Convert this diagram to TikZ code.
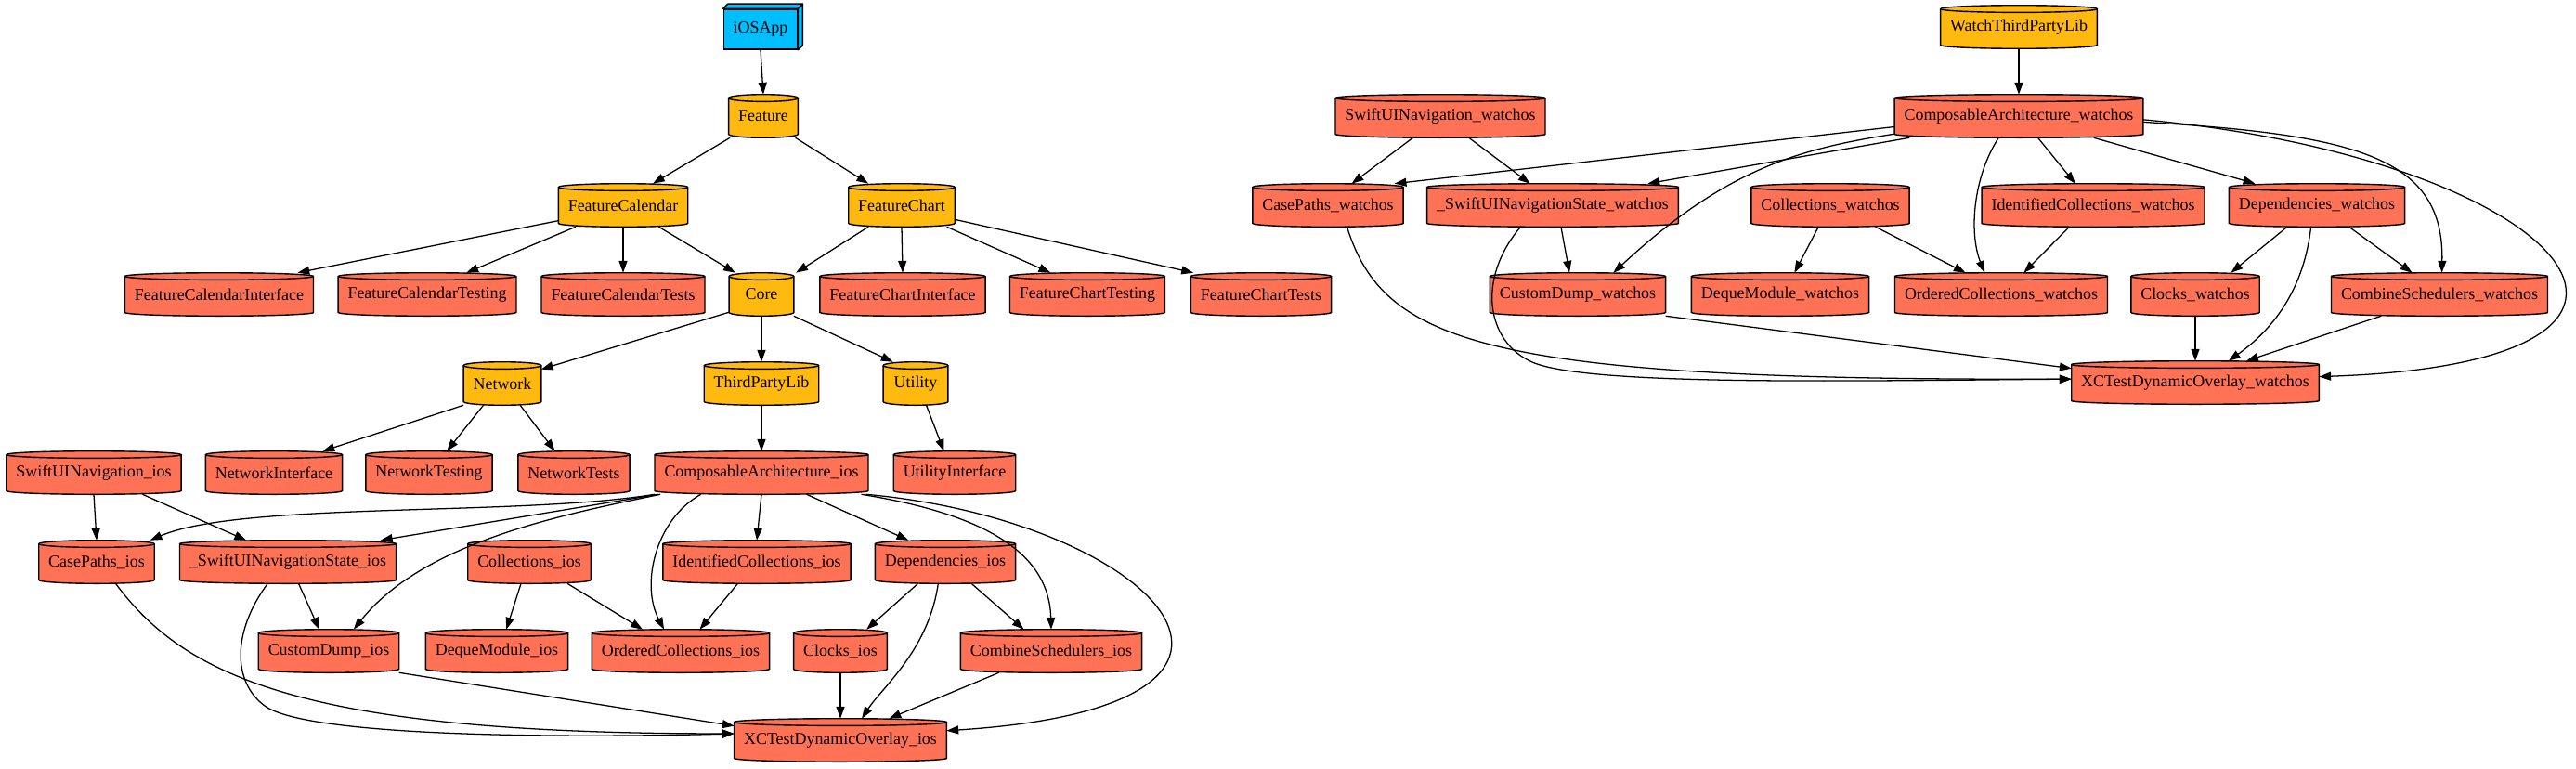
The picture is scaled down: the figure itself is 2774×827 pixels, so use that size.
\documentclass[tikz,border=0pt]{standalone}
\usepackage{fontspec}
\setmainfont{Liberation Serif}
\usetikzlibrary{arrows.meta,calc}
\pgfdeclarelayer{background}
\pgfsetlayers{background,main}
\definecolor{gold}{HTML}{FFB90F}
\definecolor{tom}{HTML}{FF7256}
\definecolor{sky}{HTML}{00BFFF}
\tikzset{
  gn/.style={font=\fontsize{14pt}{16pt}\selectfont, inner xsep=8pt, inner ysep=0pt, minimum height=36pt, minimum width=54pt},
  edg/.style={-{Triangle[length=10pt,width=7pt]}, line width=1pt, black},
  cylline/.style={draw=black, line width=1.1pt},
}
\begin{document}
\begin{tikzpicture}[x=0.78125pt,y=-0.78125pt]
\useasboundingbox (0,0) rectangle (2774,827);
% ---------- iOS nodes ----------
\node[gn, draw, fill=sky, line width=1.1pt, minimum width=59.4pt, minimum height=33.6pt] (ios) at (819,31.5) {iOSApp};
\node[gn] (Feat) at (822,125) {Feature};
\node[gn] (FCal) at (671,221) {FeatureCalendar};
\node[gn] (FChart) at (971,221) {FeatureChart};
\node[gn] (FCI) at (236,317) {FeatureCalendarInterface};
\node[gn] (FCT) at (460,317) {FeatureCalendarTesting};
\node[gn] (FCTs) at (671,317) {FeatureCalendarTests};
\node[gn] (Core) at (820,317) {Core};
\node[gn] (FChI) at (972,317) {FeatureChartInterface};
\node[gn] (FChT) at (1171,317) {FeatureChartTesting};
\node[gn] (FChTs) at (1358,317) {FeatureChartTests};
\node[gn] (Net) at (541,413) {Network};
\node[gn] (TPL) at (820,413) {ThirdPartyLib};
\node[gn] (Util) at (986,413) {Utility};
\node[gn] (SNi) at (101,509) {SwiftUINavigation\_ios};
\node[gn] (NI) at (295,509) {NetworkInterface};
\node[gn] (NTg) at (462,509) {NetworkTesting};
\node[gn] (NTs) at (618,509) {NetworkTests};
\node[gn] (CAi) at (820,509) {ComposableArchitecture\_ios};
\node[gn] (UI) at (1028,509) {UtilityInterface};
\node[gn] (CPi) at (104,605) {CasePaths\_ios};
\node[gn] (SNSi) at (310,605) {\_SwiftUINavigationState\_ios};
\node[gn] (Coli) at (570,605) {Collections\_ios};
\node[gn] (ICi) at (815,605) {IdentifiedCollections\_ios};
\node[gn] (Depi) at (1018,605) {Dependencies\_ios};
\node[gn] (CDi) at (354,701) {CustomDump\_ios};
\node[gn] (DQi) at (535,701) {DequeModule\_ios};
\node[gn] (OCi) at (733,701) {OrderedCollections\_ios};
\node[gn] (Clki) at (905,701) {Clocks\_ios};
\node[gn] (CSi) at (1132,701) {CombineSchedulers\_ios};
\node[gn] (XTi) at (905,797) {XCTestDynamicOverlay\_ios};
% ---------- watchOS nodes ----------
\node[gn] (WTL) at (2174,29) {WatchThirdPartyLib};
\node[gn] (SNw) at (1551,125) {SwiftUINavigation\_watchos};
\node[gn] (CAw) at (2174,125) {ComposableArchitecture\_watchos};
\node[gn] (CPw) at (1430,221) {CasePaths\_watchos};
\node[gn] (SNSw) at (1672,221) {\_SwiftUINavigationState\_watchos};
\node[gn] (Colw) at (1971,221) {Collections\_watchos};
\node[gn] (ICw) at (2254,221) {IdentifiedCollections\_watchos};
\node[gn] (Depw) at (2495,221) {Dependencies\_watchos};
\node[gn] (CDw) at (1699,317) {CustomDump\_watchos};
\node[gn] (DQw) at (1917,317) {DequeModule\_watchos};
\node[gn] (OCw) at (2155,317) {OrderedCollections\_watchos};
\node[gn] (Clkw) at (2364,317) {Clocks\_watchos};
\node[gn] (CSw) at (2627,317) {CombineSchedulers\_watchos};
\node[gn] (XTw) at (2364,412) {XCTestDynamicOverlay\_watchos};
% ---------- box3d faces ----------
\filldraw[fill=sky, line width=1.1pt, line join=round] (ios.north west) -- ++(4pt,4pt) -- ([shift={(4pt,4pt)}]ios.north east) -- (ios.north east) -- cycle;
\filldraw[fill=sky, line width=1.1pt, line join=round] (ios.north east) -- ++(4pt,4pt) -- ([shift={(4pt,4pt)}]ios.south east) -- (ios.south east) -- cycle;
% ---------- cylinders ----------
\begin{pgfonlayer}{background}
\foreach \q/\c in {Feat/gold,FCal/gold,FChart/gold,Core/gold,Net/gold,TPL/gold,Util/gold,WTL/gold,
  FCI/tom,FCT/tom,FCTs/tom,FChI/tom,FChT/tom,FChTs/tom,SNi/tom,NI/tom,NTg/tom,NTs/tom,CAi/tom,UI/tom,
  CPi/tom,SNSi/tom,Coli/tom,ICi/tom,Depi/tom,CDi/tom,DQi/tom,OCi/tom,Clki/tom,CSi/tom,XTi/tom,
  SNw/tom,CAw/tom,CPw/tom,SNSw/tom,Colw/tom,ICw/tom,Depw/tom,CDw/tom,DQw/tom,OCw/tom,Clkw/tom,CSw/tom,XTw/tom}{
  \filldraw[cylline, fill=\c] let \p1=(\q.north west), \p2=(\q.south east), \n1={0.5*(\x2-\x1)} in
    ({\x1},{\y1-3pt}) arc[start angle=180,end angle=0,x radius=\n1,y radius=3pt]
    -- ({\x2},{\y2+3pt}) arc[start angle=0,end angle=-180,x radius=\n1,y radius=3pt] -- cycle;
  \draw[cylline] let \p1=(\q.north west), \p2=(\q.south east), \n1={0.5*(\x2-\x1)} in
    ({\x1},{\y1-3pt}) arc[start angle=180,end angle=360,x radius=\n1,y radius=3pt];
}
\end{pgfonlayer}
% ---------- iOS edges ----------
\draw[edg] (ios.south) -- (Feat.north);
\draw[edg] ([xshift=-28pt]Feat.south) -- ([xshift=25pt]FCal.north);
\draw[edg] ([xshift=27pt]Feat.south) -- ([xshift=-28pt]FChart.north);
\draw[edg] ([yshift=-13pt]FCal.west) -- ([xshift=66pt]FCI.north);
\draw[edg] ([xshift=-40pt]FCal.south) -- ([xshift=33pt]FCT.north);
\draw[edg] (FCal.south) -- (FCTs.north);
\draw[edg] ([xshift=30pt]FCal.south) -- ([xshift=-22pt]Core.north);
\draw[edg] ([xshift=-28pt]FChart.south) -- ([xshift=29pt]Core.north);
\draw[edg] (FChart.south) -- (FChI.north);
\draw[edg] ([xshift=38pt]FChart.south) -- ([xshift=-31pt]FChT.north);
\draw[edg] ([yshift=-12pt]FChart.east) -- ([xshift=-57pt]FChTs.north);
\draw[edg] ([yshift=-15pt]Core.west) -- ([yshift=12pt]Net.east);
\draw[edg] (Core.south) -- (TPL.north);
\draw[edg] (Core.south east) -- ([xshift=-19pt]Util.north);
\draw[edg] (Net.south west) -- ([xshift=41pt]NI.north);
\draw[edg] ([xshift=-16pt]Net.south) -- ([xshift=15pt]NTg.north);
\draw[edg] ([xshift=15pt]Net.south) -- ([xshift=-16pt]NTs.north);
\draw[edg] (TPL.south) -- (CAi.north);
\draw[edg] ([xshift=9pt]Util.south) -- ([xshift=-9pt]UI.north);
\draw[edg] (SNi.south) -- (CPi.north);
\draw[edg] ([xshift=41pt]SNi.south) -- ([xshift=-35pt]SNSi.north);
\draw[edg] ([xshift=-90pt]CAi.south) .. controls (560,556) and (260,540) .. ([xshift=45pt]CPi.north);
\draw[edg] ([xshift=-87pt]CAi.south) -- ([xshift=78pt]SNSi.north);
\draw[edg] ([xshift=-85pt]CAi.south) .. controls (600,555) and (455,585) .. ([xshift=21pt]CDi.north);
\draw[edg] ([xshift=-51pt]CAi.south) .. controls (705,560) and (690,630) .. ([xshift=-14pt]OCi.north);
\draw[edg] (CAi.south) -- (ICi.north);
\draw[edg] ([xshift=38pt]CAi.south) -- ([xshift=-31pt]Depi.north);
\draw[edg] ([xshift=84pt]CAi.south) .. controls (1070,555) and (1130,600) .. (CSi.north);
\draw[edg] ([xshift=88pt]CAi.south) .. controls (1240,560) and (1440,760) .. ([yshift=8pt]XTi.east);
\draw[edg] ([xshift=16pt]CPi.south) .. controls (200,730) and (330,790) .. ([yshift=5.5pt]XTi.west);
\draw[edg] ([xshift=-17pt]SNSi.south) .. controls (250,680) and (250,734) .. (285,760) .. controls (330,793) and (600,795) .. ([yshift=5.5pt]XTi.west);
\draw[edg] ([xshift=9pt]SNSi.south) -- ([xshift=-8pt]CDi.north);
\draw[edg] (CDi.south east) -- ([yshift=12pt]XTi.west);
\draw[edg] ([xshift=-7pt]Coli.south) -- ([xshift=8pt]DQi.north);
\draw[edg] ([xshift=32pt]Coli.south) -- ([xshift=-32pt]OCi.north);
\draw[edg] ([xshift=-16pt]ICi.south) -- ([xshift=16pt]OCi.north);
\draw[edg] ([xshift=-23pt]Depi.south) -- ([xshift=22pt]Clki.north);
\draw[edg] ([xshift=-6pt]Depi.south) .. controls (1000,700) and (950,740) .. ([xshift=18pt]XTi.north);
\draw[edg] ([xshift=22pt]Depi.south) -- ([xshift=-23pt]CSi.north);
\draw[edg] (Clki.south) -- (XTi.north);
\draw[edg] ([xshift=-44pt]CSi.south) -- ([xshift=41pt]XTi.north);
% ---------- watchOS edges ----------
\draw[edg] (WTL.south) -- (CAw.north);
\draw[edg] ([xshift=-23pt]SNw.south) -- ([xshift=20pt]CPw.north);
\draw[edg] ([xshift=24pt]SNw.south) -- ([xshift=-19pt]SNSw.north);
\draw[edg] ([yshift=-9pt]CAw.west) -- ([xshift=56pt]CPw.north);
\draw[edg] ([xshift=-92pt]CAw.south) -- ([xshift=80pt]SNSw.north);
\draw[edg] ([yshift=-15pt]CAw.west) .. controls (1940,160) and (1860,180) .. ([xshift=30pt]CDw.north);
\draw[edg] ([xshift=-17pt]CAw.south) .. controls (2125,190) and (2120,250) .. ([xshift=-14pt]OCw.north);
\draw[edg] ([xshift=16pt]CAw.south) -- ([xshift=-15pt]ICw.north);
\draw[edg] ([xshift=63pt]CAw.south) -- ([xshift=-52pt]Depw.north);
\draw[edg] ([yshift=-5pt]CAw.east) .. controls (2540,145) and (2632,170) .. ([xshift=2pt]CSw.north);
\draw[edg] ([yshift=-3pt]CAw.east) .. controls (2760,170) and (2960,390) .. ([yshift=5pt]XTw.east);
\draw[edg] ([xshift=16pt]CPw.south) .. controls (1490,370) and (1600,410) .. ([yshift=3pt]XTw.west);
\draw[edg] ([xshift=-27pt]SNSw.south) .. controls (1590,300) and (1600,368) .. (1650,390) .. controls (1710,416) and (2000,410) .. ([yshift=3pt]XTw.west);
\draw[edg] ([xshift=7pt]SNSw.south) -- ([xshift=-7pt]CDw.north);
\draw[edg] (CDw.south east) -- ([yshift=12pt]XTw.west);
\draw[edg] ([xshift=-10pt]Colw.south) -- ([xshift=12pt]DQw.north);
\draw[edg] ([xshift=38pt]Colw.south) -- ([xshift=-30pt]OCw.north);
\draw[edg] ([xshift=-20pt]ICw.south) -- ([xshift=19pt]OCw.north);
\draw[edg] ([xshift=-25pt]Depw.south) -- ([xshift=30pt]Clkw.north);
\draw[edg] ([xshift=-5pt]Depw.south) .. controls (2480,320) and (2440,360) .. ([xshift=28pt]XTw.north);
\draw[edg] ([xshift=27pt]Depw.south) -- ([xshift=-23pt]CSw.north);
\draw[edg] (Clkw.south) -- (XTw.north);
\draw[edg] ([xshift=-49pt]CSw.south) -- ([xshift=43pt]XTw.north);
\end{tikzpicture}
\end{document}
